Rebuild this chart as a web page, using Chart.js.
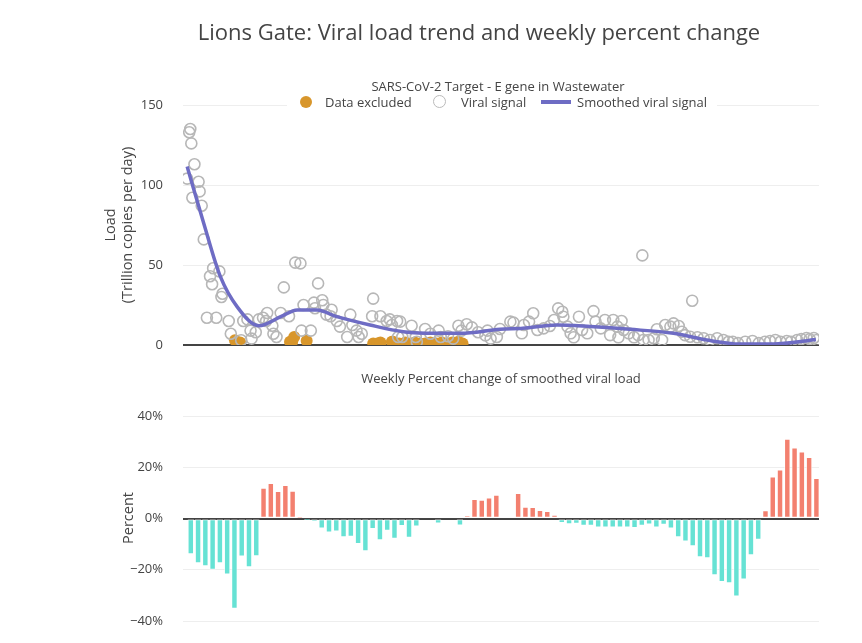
<!DOCTYPE html>
<html>
<head>
<meta charset="utf-8">
<script src="https://cdn.jsdelivr.net/npm/chart.js@4.4.1/dist/chart.umd.min.js"></script>
<style>
  html, body { margin: 0; padding: 0; background: #fff; }
  #wrap { position: relative; width: 862px; height: 643px; overflow: hidden; font-family: "Open Sans", "DejaVu Sans", Arial, sans-serif; color: #444; }
  canvas { position: absolute; left: 0; }
  .txt { position: absolute; white-space: nowrap; transform: translate(-50%, -50%); line-height: 1.2; }
  .rot { position: absolute; white-space: nowrap; transform: translate(-50%, -50%) rotate(-90deg); line-height: 1.2; font-size: 14.5px; }
  #legend { position: absolute; left: 287px; top: 94px; width: 430px; height: 17px; background: #fff; }
  .lg { position: absolute; font-size: 13px; top: 102px; transform: translateY(-50%); white-space: nowrap; }
</style>
</head>
<body>
<div id="wrap">
  <canvas id="top" width="862" height="374" style="top:0px"></canvas>
  <canvas id="bot" width="862" height="290" style="top:360px"></canvas>

  <div class="txt" style="left:479px; top:31px; font-size:22px;">Lions Gate: Viral load trend and weekly percent change</div>
  <div class="txt" style="left:498px; top:87px; font-size:13px;">SARS-CoV-2 Target - E gene in Wastewater</div>
  <div id="legend"></div>
  <div style="position:absolute; left:300px; top:96px; width:12px; height:12px; border-radius:50%; background:#D8962B;"></div>
  <div class="lg" style="left:325px;">Data excluded</div>
  <div style="position:absolute; left:433px; top:95px; width:11px; height:11px; border-radius:50%; border:1.6px solid #BBBBBB;"></div>
  <div class="lg" style="left:461px;">Viral signal</div>
  <div style="position:absolute; left:541px; top:100px; width:30px; height:4px; background:#6E6CC4;"></div>
  <div class="lg" style="left:577px;">Smoothed viral signal</div>
  <div class="txt" style="left:501px; top:379px; font-size:13px;">Weekly Percent change of smoothed viral load</div>
  <div class="rot" style="left:110px; top:225px;">Load</div>
  <div class="rot" style="left:127px; top:225px;">(Trillion copies per day)</div>
  <div class="rot" style="left:128px; top:518px;">Percent</div>
</div>
<script>
// ---- Data (x = days since first sample) ----
const signalDays = [0,2,3,4,5,7,11,12,14,16,19,22,24,25,28,31,33,34,40,42,52,54,58,61,62,66,69,73,76,77,82,83,86,90,93,98,104,109,110,112,119,122,123,126,130,131,134,138,139,144,147,154,157,159,163,165,168,178,179,186,192,195,197,202,203,205,207,216,220,221,229,234,242,244,251,256,261,264,269,274,280,287,289,292,298,301,311,314,322,324,329,333,337,343,349,353,357,361,362,366,369,372,377,380,385,391,393,398,402,407,410,414,415,418,420,425,430,434,438,439,444,449,452,457,460,465,468,473,476,479,484,486,491,497,503,510,516,521,525,530,537,544,550,556,561,566,571,577,581,587,591,596,599,603,606];
const signalLoad = [104,133,135,126,92,113,102,96,87,66,17,43,38,48,17,46,30,32,15,7,3,15,16,9,4,8,16,17,15,20,12,7,5,20,36,18,51.5,51,9,25,9,26.5,23,38.5,28,25,19,18,22,15,11.5,5,19,12.5,9,5,7,18,29,18,15,16,12.5,15,5,14.6,5,12,5,2,10,7,9,5,5.5,4,12,9,13,11,8,6,9,4,5,10,14.6,14,7.3,12.5,14.6,19.8,9.4,10.4,11.9,15.6,22.9,20.8,17.7,11.5,7.3,4.8,17.7,9.4,7.3,21.2,14.6,10.4,15.6,6.2,15.6,11.5,4.8,15,9.4,7.3,4.8,6.2,56,3.1,3.1,4.2,9.8,3.1,12.5,11.5,13.5,11.9,8.3,6.2,5.2,27.7,4.8,4.2,3.1,4.2,3.1,2,2,1.2,2,2.5,1.2,2,2.5,3.1,2,2.5,2,3.1,3.7,4.4,3.7,4.4,3.1];

const excludedDays = [46,51,99,101,103,115,179,183,186,197,198,204,210,215,219,224,229,234,240,245,250,255,261,265];
const excludedLoad = [3,1.5,2,2,5,2.7,1,1,1.5,2,2,1,1.5,1,1.5,1,1,1.5,1,1.5,1,1.5,2,1];

const smoothDays = [0,16,32,48,69,90,106,125,144,176,208,240,263,301,323,356,388,426,468,500,532,564,597,605];
const smoothLoad = [111.5,76,42.7,24,12,17.7,21.9,21.9,17.7,12.5,8.3,7.3,7.3,9.8,10.4,12.5,11.5,9.8,7.3,3.1,0.6,0.6,2.7,3.5];

// Weekly percent change (one value per week; null = no value)
const weeklyPctChange = [-13.8,-17.3,-18.5,-19.9,-17.3,-21.7,-35.1,-14.7,-18.9,-14.6,
  11.9,13.7,10.6,12.9,10.7,0.6,-0.5,-1.0,-3.8,-5.3,
  -4.9,-7.2,-7.0,-9.8,-12.7,-4.0,-8.4,-4.7,-7.8,-2.8,
  -7.4,-3.0,null,null,-1.8,null,null,-2.6,1.0,7.5,
  7.2,8.1,9.1,null,null,9.8,4.5,4.4,3.2,2.8,
  1.3,-1.6,-2.1,-1.9,-2.7,-2.7,-3.4,-3.4,-3.4,-3.4,
  -3.4,-3.6,-2.7,-2.2,-3.4,-2.3,-3.8,-7.2,-8.8,-10.7,
  -15.0,-15.4,-22.0,-24.7,-25.1,-30.3,-23.7,-14.2,-8.2,3.1,
  16.3,19.0,31.0,27.6,26.0,23.9,15.7];
const weekDays = weeklyPctChange.map((v, i) => 3.5 + 7 * i);

const loadTicks = [0, 50, 100, 150];
const pctTicks = [-40, -20, 0, 20, 40];

// ---- Styling ----
const FONT = '"Open Sans", "DejaVu Sans", Arial, sans-serif';
const X_MIN = -4, X_MAX = 608;
const fixWidth = (s) => { s.width = 183; };
const gridColor = (ctx) => (ctx.tick && ctx.tick.value === 0) ? '#444' : '#eeeeee';
const gridWidth = (ctx) => (ctx.tick && ctx.tick.value === 0) ? 2 : 1;

const zip = (xs, ys) => xs.map((x, i) => ({ x: x, y: ys[i] }));

new Chart(document.getElementById('top'), {
  type: 'scatter',
  data: {
    datasets: [
      {
        label: 'Smoothed viral signal',
        data: zip(smoothDays, smoothLoad),
        showLine: true,
        borderColor: '#6E6CC4',
        borderWidth: 3.5,
        pointRadius: 0,
        cubicInterpolationMode: 'monotone',
        order: 1
      },
      {
        label: 'Viral signal',
        data: zip(signalDays, signalLoad),
        pointRadius: 5.5,
        pointBorderWidth: 1.6,
        pointBorderColor: '#B7B7B7',
        pointBackgroundColor: 'rgba(255,255,255,0)',
        order: 2
      },
      {
        label: 'Data excluded',
        data: zip(excludedDays, excludedLoad),
        pointRadius: 6,
        pointBorderWidth: 0,
        pointBackgroundColor: '#D8962B',
        order: 3
      }
    ]
  },
  options: {
    responsive: false,
    animation: false,
    layout: { padding: { top: 105, bottom: 29, left: 0, right: 43 } },
    plugins: { legend: { display: false }, tooltip: { enabled: false } },
    scales: {
      x: { type: 'linear', min: X_MIN, max: X_MAX, offset: false, display: false },
      y: {
        min: 0, max: 150,
        afterFit: fixWidth,
        afterBuildTicks: (s) => { s.ticks = loadTicks.map(v => ({ value: v })); },
        border: { display: false },
        grid: { color: gridColor, lineWidth: gridWidth, drawTicks: false },
        ticks: { padding: 20, color: '#444', font: { family: FONT, size: 13 } }
      }
    }
  }
});

new Chart(document.getElementById('bot'), {
  type: 'bar',
  data: {
    datasets: [{
      label: 'Weekly percent change',
      data: zip(weekDays, weeklyPctChange),
      backgroundColor: (ctx) => (ctx.raw && ctx.raw.y >= 0) ? '#F3806F' : '#66E2D4',
      borderColor: 'rgba(255,255,255,0.55)',
      borderWidth: 1,
      borderSkipped: false,
      barThickness: 5.8
    }]
  },
  options: {
    responsive: false,
    animation: false,
    parsing: { xAxisKey: 'x', yAxisKey: 'y' },
    layout: { padding: { top: 56, bottom: 29, left: 0, right: 43 } },
    plugins: { legend: { display: false }, tooltip: { enabled: false } },
    scales: {
      x: { type: 'linear', min: X_MIN, max: X_MAX, offset: false, display: false },
      y: {
        min: -40, max: 40,
        afterFit: fixWidth,
        afterBuildTicks: (s) => { s.ticks = pctTicks.map(v => ({ value: v })); },
        border: { display: false },
        grid: { color: gridColor, lineWidth: gridWidth, drawTicks: false },
        ticks: {
          padding: 20, color: '#444', font: { family: FONT, size: 13 },
          callback: (v) => (v < 0 ? '\u2212' + Math.abs(v) : v) + '%'
        }
      }
    }
  }
});
</script>
</body>
</html>
